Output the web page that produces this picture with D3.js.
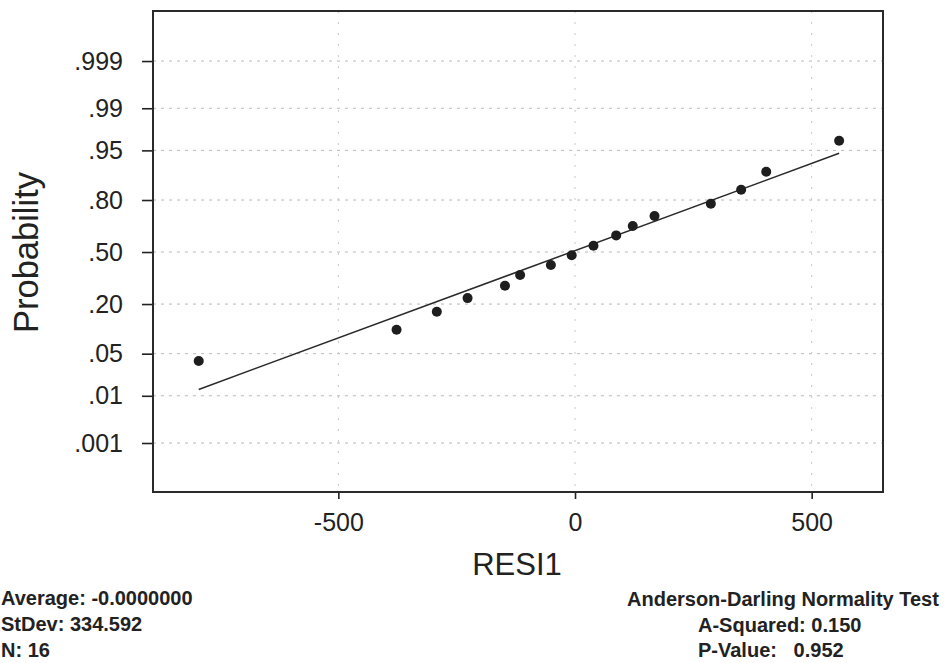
<!DOCTYPE html>
<html>
<head>
<meta charset="utf-8">
<script src="https://cdn.jsdelivr.net/npm/d3@7"></script>
<style>
  body { margin: 0; background: #fff; }
  svg { display: block; font-family: "Liberation Sans", Arial, sans-serif; }
</style>
</head>
<body>
<div id="plot"></div>
<script>
// Residuals (x) and plotted probabilities (y)
const resid = [-795, -377, -292, -227, -148, -116, -51, -7, 39, 87, 122, 168, 287, 351, 404, 558];
const prob = [0.039, 0.104, 0.167, 0.228, 0.293, 0.355, 0.417, 0.479, 0.541, 0.606, 0.663, 0.720, 0.783, 0.843, 0.903, 0.964];

// Fitted line end points
const fitX = [-795, 558];
const fitP = [0.0131, 0.945];

// Axis ticks
const probTicks = [0.001, 0.01, 0.05, 0.20, 0.50, 0.80, 0.95, 0.99, 0.999];
const probLabels = [".001", ".01", ".05", ".20", ".50", ".80", ".95", ".99", ".999"];
const xTicks = [-500, 0, 500];
const xLabels = ["-500", "0", "500"];

// Text below the plot
const statsLeft = ["Average: -0.0000000", "StDev: 334.592", "N: 16"];
const statsRight = ["Anderson-Darling Normality Test", "A-Squared: 0.150", "P-Value:   0.952"];

// inverse normal CDF (Acklam approximation)
function qnorm(p) {
  const a = [-39.69683028665376, 220.9460984245205, -275.9285104469687, 138.3577518672690, -30.66479806614716, 2.506628277459239];
  const b = [-54.47609879822406, 161.5858368580409, -155.6989798598866, 66.80131188771972, -13.28068155288572];
  const c = [-0.007784894002430293, -0.3223964580411365, -2.400758277161838, -2.549732539343734, 4.374664141464968, 2.938163982698783];
  const d = [0.007784695709041462, 0.3224671290700398, 2.445134137142996, 3.754408661907416];
  const pl = 0.02425;
  let q, r;
  if (p < pl) {
    q = Math.sqrt(-2 * Math.log(p));
    return (((((c[0]*q+c[1])*q+c[2])*q+c[3])*q+c[4])*q+c[5]) / ((((d[0]*q+d[1])*q+d[2])*q+d[3])*q+1);
  } else if (p <= 1 - pl) {
    q = p - 0.5; r = q * q;
    return (((((a[0]*r+a[1])*r+a[2])*r+a[3])*r+a[4])*r+a[5])*q / (((((b[0]*r+b[1])*r+b[2])*r+b[3])*r+b[4])*r+1);
  } else {
    q = Math.sqrt(-2 * Math.log(1 - p));
    return -(((((c[0]*q+c[1])*q+c[2])*q+c[3])*q+c[4])*q+c[5]) / ((((d[0]*q+d[1])*q+d[2])*q+d[3])*q+1);
  }
}

const margin = { top: 11, right: 63, bottom: 171, left: 153 };
const W = 946, H = 663;
const width = W - margin.left - margin.right;
const height = H - margin.top - margin.bottom;

const svg = d3.select("#plot").append("svg")
  .attr("width", W)
  .attr("height", H);

const g = svg.append("g")
  .attr("transform", `translate(${margin.left},${margin.top})`);

const x = d3.scaleLinear().domain([-891.6, 650.7]).range([0, width]);
// y is on the normal score scale
const y = d3.scaleLinear().domain([-3.883, 3.9]).range([height, 0]);

// gridlines
g.selectAll(".hgrid")
  .data(probTicks)
  .enter().append("line")
  .attr("x1", 0).attr("x2", width)
  .attr("y1", d => y(qnorm(d))).attr("y2", d => y(qnorm(d)))
  .attr("stroke", "#b8b8b8")
  .attr("stroke-width", 1)
  .attr("stroke-dasharray", "3,5");

g.selectAll(".vgrid")
  .data(xTicks)
  .enter().append("line")
  .attr("x1", d => x(d)).attr("x2", d => x(d))
  .attr("y1", 0).attr("y2", height)
  .attr("stroke", "#c8c8c8")
  .attr("stroke-width", 1)
  .attr("stroke-dasharray", "2,9");

// y axis
const yAxis = g.append("g")
  .call(d3.axisLeft(y)
    .tickValues(probTicks.map(qnorm))
    .tickFormat((d, i) => probLabels[i])
    .tickSize(11)
    .tickPadding(19));
yAxis.select(".domain").remove();
yAxis.selectAll("line").attr("stroke", "#222").attr("stroke-width", 1.6);
yAxis.selectAll("text")
  .attr("font-size", 25)
  .attr("font-family", "Liberation Sans, Arial, sans-serif")
  .attr("fill", "#222");

// x axis
const xAxis = g.append("g")
  .attr("transform", `translate(0,${height})`)
  .call(d3.axisBottom(x)
    .tickValues(xTicks)
    .tickFormat((d, i) => xLabels[i])
    .tickSize(7)
    .tickPadding(14));
xAxis.select(".domain").remove();
xAxis.selectAll("line").attr("stroke", "#222").attr("stroke-width", 1.6);
xAxis.selectAll("text")
  .attr("font-size", 25)
  .attr("font-family", "Liberation Sans, Arial, sans-serif")
  .attr("fill", "#222");

// frame
g.append("rect")
  .attr("width", width)
  .attr("height", height)
  .attr("fill", "none")
  .attr("stroke", "#2a2a2a")
  .attr("stroke-width", 2);

// fitted line
g.append("line")
  .attr("x1", x(fitX[0])).attr("y1", y(qnorm(fitP[0])))
  .attr("x2", x(fitX[1])).attr("y2", y(qnorm(fitP[1])))
  .attr("stroke", "#2a2a2a")
  .attr("stroke-width", 1.5);

// points
g.selectAll(".dot")
  .data(resid)
  .enter().append("circle")
  .attr("class", "dot")
  .attr("cx", d => x(d))
  .attr("cy", (d, i) => y(qnorm(prob[i])))
  .attr("r", 5)
  .attr("fill", "#1e1e1e");

// axis labels
svg.append("text")
  .attr("x", 517)
  .attr("y", 575)
  .attr("text-anchor", "middle")
  .attr("font-size", 31)
  .attr("fill", "#222")
  .text("RESI1");

svg.append("text")
  .attr("transform", "rotate(-90)")
  .attr("x", -252.5)
  .attr("y", 38)
  .attr("text-anchor", "middle")
  .attr("font-size", 34.5)
  .attr("fill", "#222")
  .text("Probability");

// summary statistics
svg.selectAll(".statL")
  .data(statsLeft)
  .enter().append("text")
  .attr("x", 1)
  .attr("y", (d, i) => 605 + i * 26)
  .attr("font-size", 20)
  .attr("font-weight", "bold")
  .attr("fill", "#222")
  .text(d => d);

svg.selectAll(".statR")
  .data(statsRight)
  .enter().append("text")
  .attr("x", (d, i) => i === 0 ? 627 : 698)
  .attr("y", (d, i) => 606 + i * 25.5)
  .attr("font-size", 20)
  .attr("font-weight", "bold")
  .attr("fill", "#222")
  .attr("xml:space", "preserve")
  .style("white-space", "pre")
  .text(d => d);
</script>
</body>
</html>
